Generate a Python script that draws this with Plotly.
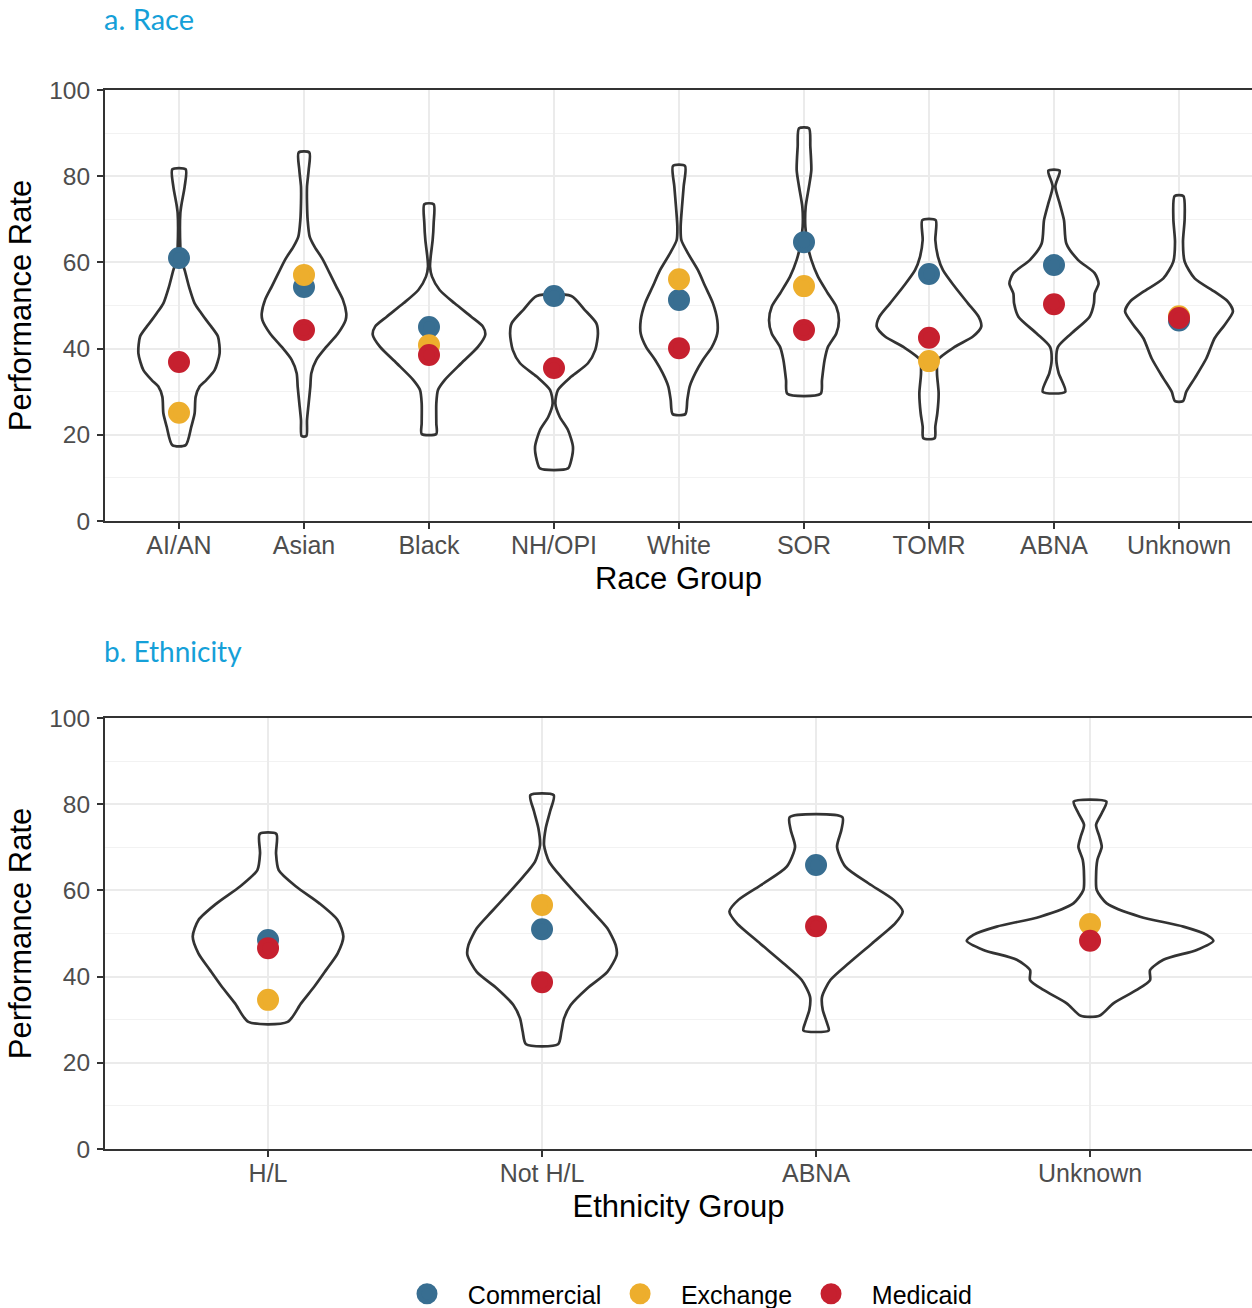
import plotly.graph_objects as go

# ---------------- DATA ----------------
race_groups = ["AI/AN", "Asian", "Black", "NH/OPI", "White", "SOR", "TOMR", "ABNA", "Unknown"]
race_commercial = [61.0, 54.3, 45.0, 52.2, 51.3, 64.7, 57.3, 59.4, 46.5]
race_exchange = [25.1, 57.1, 40.8, None, 56.1, 54.5, 37.1, None, 47.5]
race_medicaid = [36.9, 44.3, 38.5, 35.5, 40.1, 44.3, 42.5, 50.3, 47.1]

eth_groups = ["H/L", "Not H/L", "ABNA", "Unknown"]
eth_commercial = [48.5, 51.0, 65.9, None]
eth_exchange = [34.6, 56.6, None, 52.2]
eth_medicaid = [46.6, 38.7, 51.7, 48.3]

# violin density profiles (rate levels, bottom to top; relative density at each level)
race_violin_levels = [
    [17.6, 21.9, 25.0, 28.8, 31.2, 32.7, 35.0, 38.9, 42.8, 45.1, 46.6, 48.2, 50.5, 54.4, 58.2, 60.6, 63.6, 71.4, 73.7, 77.6, 81.6],
    [19.7, 23.4, 27.3, 31.2, 34.3, 37.4, 40.4, 43.5, 46.6, 48.2, 51.3, 54.4, 57.5, 60.6, 63.6, 66.0, 69.8, 73.7, 77.6, 81.4, 85.5],
    [20.2, 22.7, 27.3, 30.4, 32.7, 36.6, 40.4, 43.2, 45.1, 47.4, 50.5, 53.6, 56.7, 59.0, 61.3, 65.2, 69.1, 73.5],
    [12.2, 14.2, 17.2, 21.1, 24.2, 27.3, 30.4, 33.5, 36.6, 39.7, 43.5, 45.9, 49.0, 52.2],
    [24.8, 28.1, 31.2, 34.3, 37.4, 40.4, 43.5, 46.6, 50.5, 54.4, 58.2, 62.1, 65.2, 68.3, 72.9, 77.6, 82.4],
    [29.5, 32.7, 37.4, 40.4, 43.5, 46.6, 49.7, 52.8, 56.7, 60.6, 63.6, 68.3, 72.9, 77.6, 81.4, 86.9, 91.1],
    [19.2, 21.9, 25.0, 29.6, 34.3, 37.4, 40.4, 42.8, 45.1, 47.4, 50.5, 54.4, 58.2, 61.3, 65.2, 69.8],
    [30.0, 34.3, 37.4, 40.4, 43.5, 47.4, 50.5, 52.8, 55.1, 57.5, 60.6, 64.4, 69.8, 73.7, 77.6, 81.3],
    [27.8, 30.0, 33.1, 37.7, 42.4, 45.5, 48.6, 50.9, 53.2, 56.3, 60.2, 64.8, 70.2, 75.4],
]
race_violin_density = [
    [20, 37, 47, 50, 62, 82, 107, 122, 117, 97, 82, 67, 47, 30, 17, 7, 4, 4, 8, 17, 20],
    [7, 9, 14, 19, 22, 37, 67, 102, 125, 127, 117, 97, 77, 57, 32, 17, 11, 9, 9, 14, 16],
    [22, 22, 22, 27, 47, 97, 147, 169, 162, 127, 77, 32, 9, 3, 5, 11, 14, 14],
    [42, 52, 57, 42, 17, 4, 12, 52, 102, 124, 132, 127, 92, 52],
    [19, 25, 32, 49, 72, 99, 115, 115, 102, 79, 57, 27, 7, 5, 9, 14, 18],
    [50, 54, 62, 72, 97, 105, 97, 72, 42, 22, 12, 4, 5, 15, 22, 19, 15],
    [17, 19, 25, 29, 24, 27, 77, 132, 157, 149, 117, 77, 42, 27, 19, 20],
    [34, 14, 7, 12, 52, 107, 120, 122, 134, 122, 72, 37, 30, 17, 4, 17],
    [12, 22, 47, 82, 107, 137, 162, 147, 107, 47, 17, 12, 17, 13],
]
eth_violin_levels = [
    [29.5, 33.8, 37.7, 41.5, 45.4, 49.3, 53.1, 57.0, 60.9, 64.7, 68.6, 73.1],
    [24.3, 27.2, 30.3, 33.4, 37.3, 41.1, 45.0, 47.3, 51.2, 55.1, 58.9, 62.8, 66.7, 70.5, 74.4, 78.3, 82.1],
    [27.5, 29.2, 32.3, 35.3, 39.2, 43.1, 47.7, 52.4, 55.1, 57.8, 61.6, 65.5, 70.1, 74.0, 77.0],
    [30.9, 33.8, 36.9, 39.2, 41.5, 43.9, 46.2, 48.3, 49.7, 51.6, 53.9, 57.0, 60.1, 63.2, 67.1, 70.1, 72.5, 75.2, 77.9, 80.6],
]
eth_violin_density = [
    [59, 99, 139, 174, 209, 226, 209, 154, 84, 32, 24, 25],
    [48, 58, 66, 86, 136, 196, 224, 221, 196, 151, 106, 61, 21, 6, 11, 24, 35],
    [38, 33, 20, 18, 43, 98, 168, 238, 260, 233, 158, 88, 63, 76, 79],
    [28, 70, 140, 180, 180, 220, 320, 370, 350, 280, 150, 50, 20, 18, 22, 35, 28, 18, 35, 49],
]

# ---------------- STYLE ----------------
C_COM = "#386E91"
C_EXC = "#EDAE2D"
C_MED = "#C6202F"
TITLE_BLUE = "#15A0D8"
FONT = "Liberation Sans"
W, H = 1252, 1308
L = 105

fig = go.Figure()


def add_violins(groups, levels, dens, xa, ya):
    dmax = max(max(d) for d in dens)
    for i, (lv, dd) in enumerate(zip(levels, dens)):
        hw = [0.45 * d / dmax for d in dd]
        xs = [i + h for h in hw] + [i - h for h in reversed(hw)] + [i + hw[0]]
        ys = list(lv) + list(reversed(lv)) + [lv[0]]
        fig.add_trace(go.Scatter(
            x=xs, y=ys, mode="lines", xaxis=xa, yaxis=ya,
            line=dict(color="#333333", width=2.7, shape="spline", smoothing=0.7),
            showlegend=False, hoverinfo="skip"))


def add_points(groups, com, exc, med, xa, ya, legend):
    idx = list(range(len(groups)))
    for name, vals, col in [("Commercial", com, C_COM), ("Exchange", exc, C_EXC), ("Medicaid", med, C_MED)]:
        fig.add_trace(go.Scatter(
            x=idx, y=vals, mode="markers", xaxis=xa, yaxis=ya,
            name="\u00a0\u00a0\u00a0" + name + "\u00a0\u00a0",
            marker=dict(color=col, size=17, line=dict(color=col, width=5)),
            showlegend=legend, legendgroup=name))


add_violins(race_groups, race_violin_levels, race_violin_density, "x", "y")
add_points(race_groups, race_commercial, race_exchange, race_medicaid, "x", "y", True)
add_violins(eth_groups, eth_violin_levels, eth_violin_density, "x2", "y2")
add_points(eth_groups, eth_commercial, eth_exchange, eth_medicaid, "x2", "y2", False)


def xaxis(groups, anchor, title, rng):
    return dict(
        anchor=anchor, domain=[0, 1], range=rng,
        tickmode="array", tickvals=list(range(len(groups))), ticktext=groups,
        showgrid=True, gridcolor="#EBEBEB", gridwidth=2, zeroline=False,
        showline=True, linecolor="#333333", linewidth=2, mirror=True,
        ticks="outside", ticklen=6, tickwidth=2, tickcolor="#333333",
        ticklabelstandoff=-5,
        tickfont=dict(family=FONT, size=25, color="#4D4D4D"),
        title=dict(text=title, font=dict(family=FONT, size=31, color="#000000"), standoff=9),
        automargin=False)


def yaxis(anchor, dom):
    return dict(
        anchor=anchor, domain=dom, range=[0, 100],
        tickmode="linear", tick0=0, dtick=20,
        showgrid=True, gridcolor="#EBEBEB", gridwidth=2, zeroline=False,
        minor=dict(dtick=10, showgrid=True, gridcolor="#F2F2F2", gridwidth=1.2),
        showline=True, linecolor="#333333", linewidth=2,
        ticks="outside", ticklen=6, tickwidth=2, tickcolor="#333333",
        ticklabelstandoff=2,
        tickfont=dict(family=FONT, size=24.5, color="#4D4D4D"),
        title=dict(text="Performance Rate", font=dict(family=FONT, size=31, color="#000000"), standoff=8),
        automargin=False)


dom_a = [1 - 521 / H, 1 - 90 / H]
dom_b = [1 - 1149 / H, 1 - 718 / H]

fig.update_layout(
    width=W, height=H,
    margin=dict(l=L, r=0, t=0, b=0, autoexpand=False),
    paper_bgcolor="white", plot_bgcolor="white",
    xaxis=xaxis(race_groups, "y", "Race Group", [-0.592, 8.584]),
    yaxis=yaxis("x", dom_a),
    xaxis2=xaxis(eth_groups, "y2", "Ethnicity Group", [-0.595, 3.591]),
    yaxis2=yaxis("x2", dom_b),
    legend=dict(orientation="h", x=(699 - L) / (W - L), xanchor="center",
                y=1 - 1294 / H, yanchor="middle",
                font=dict(family=FONT, size=25, color="#000000"),
                itemsizing="trace", tracegroupgap=0),
    annotations=[
        dict(text="a. Race", xref="paper", yref="paper", x=(102 - L) / (W - L), y=1 - 18 / H,
             xanchor="left", yanchor="middle", showarrow=False,
             font=dict(family="Lato", size=29, color=TITLE_BLUE)),
        dict(text="b. Ethnicity", xref="paper", yref="paper", x=(102 - L) / (W - L), y=1 - 651 / H,
             xanchor="left", yanchor="middle", showarrow=False,
             font=dict(family="Lato", size=28, color=TITLE_BLUE)),
    ],
)

css = ("var s=document.documentElement.style;s.margin='0';s.padding='0';s.overflow='hidden';"
       "var b=document.body.style;b.margin='0';b.padding='0';b.overflow='hidden';")
fig.write_html("out.html", config={"displayModeBar": False}, post_script=css)
